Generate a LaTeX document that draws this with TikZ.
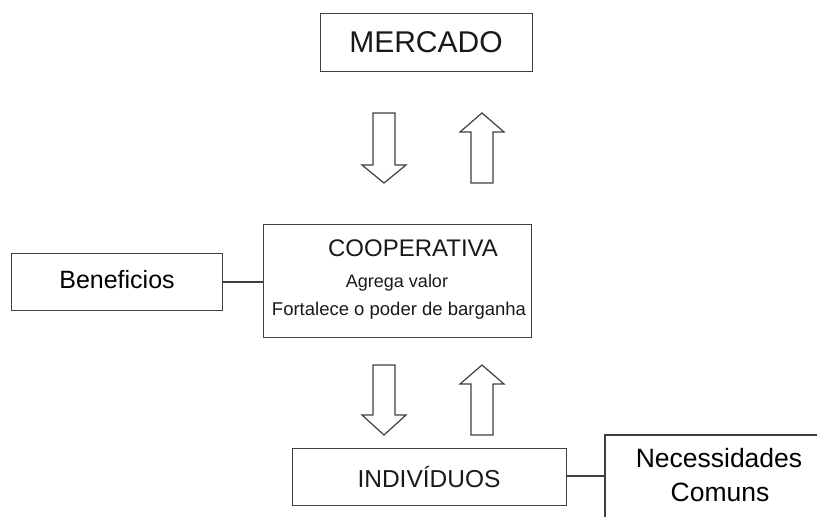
\documentclass[tikz,border=0pt]{standalone}
\usepackage{fontspec}
\setmainfont{Liberation Sans}
\begin{document}
\begin{tikzpicture}[x=1pt,y=-1pt,
  box/.style={draw=black!75, line width=1.2pt, rectangle, inner sep=0pt, anchor=north west},
  blockarrow/.style={draw=black!75, line width=1.2pt, fill=white, line join=miter},
  conn/.style={draw=black!75, line width=1.2pt},
  txt/.style={inner sep=0pt, text=black!90},
  darktxt/.style={inner sep=0pt, text=black}]
\useasboundingbox (0,0) rectangle (819,517);
% boxes
\node[box, minimum width=212pt, minimum height=58pt] (merc) at (320,13) {};
\node[txt] (merctxt) at (426,42) {\fontsize{30}{30}\selectfont MERCADO};
\node[box, minimum width=268pt, minimum height=113pt] (coop) at (263,224) {};
\node[txt] (cooptitle) at (413,248) {\fontsize{24}{24}\selectfont COOPERATIVA};
\node[txt] (coopa) at (397,283) {\fontsize{18}{18}\selectfont Agrega valor};
\node[txt] (coopb) at (399,311) {\fontsize{18.5}{18.5}\selectfont Fortalece o poder de barganha};
\node[box, minimum width=211pt, minimum height=57pt] (bene) at (11,253) {};
\node[darktxt] (benetxt) at (117,280) {\fontsize{25}{25}\selectfont Beneficios};
\node[box, minimum width=274pt, minimum height=57pt] (indiv) at (292,448) {};
\node[txt] (indivtxt) at (429,477) {\fontsize{24.5}{24.5}\selectfont INDIVÍDUOS};
\coordinate (nl) at (605,476);
\coordinate (ntl) at (605,435);
\coordinate (ntr) at (817,435);
\coordinate (nbl) at (605,517);
\node[darktxt] (nec) at (719,458) {\fontsize{26.5}{26.5}\selectfont Necessidades};
\node[darktxt] (com) at (720,492) {\fontsize{26.5}{26.5}\selectfont Comuns};
% connectors
\draw[conn] (bene.east |- 0,282) -- (coop.west |- 0,282);
\draw[conn] (indiv.east |- 0,476) -- (nl);
\draw[conn] (nbl) -- (ntl) -- (ntr);
% block arrows
\draw[blockarrow] (373,113) -- (395,113) -- (395,165) -- (406,165) -- (384,183) -- (362,165) -- (373,165) -- cycle;
\draw[blockarrow] (482,113) -- (504,132) -- (493,132) -- (493,183) -- (471,183) -- (471,132) -- (460,132) -- cycle;
\draw[blockarrow] (373,365) -- (395,365) -- (395,415) -- (406,415) -- (384,435) -- (362,415) -- (373,415) -- cycle;
\draw[blockarrow] (482,365) -- (504,384) -- (493,384) -- (493,435) -- (471,435) -- (471,384) -- (460,384) -- cycle;
\end{tikzpicture}
\end{document}
